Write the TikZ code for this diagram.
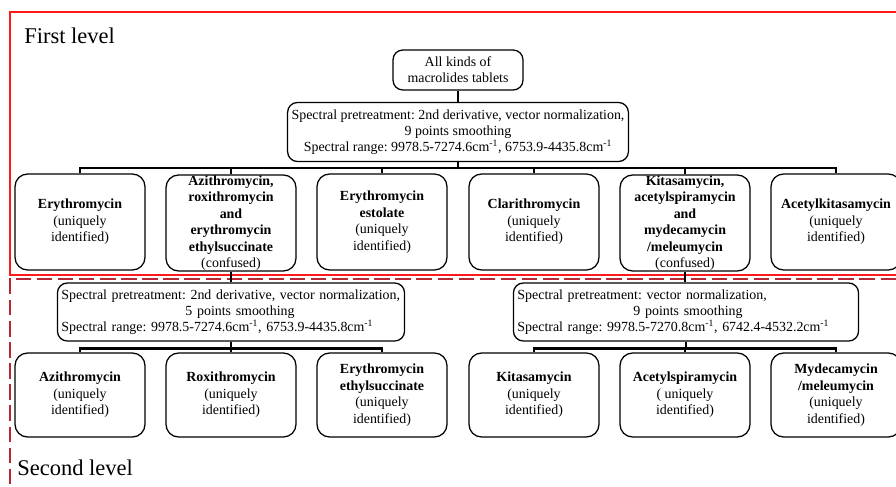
\documentclass[tikz,border=0pt]{standalone}
\usepackage{fontspec}
\setmainfont{Liberation Serif}
\frenchspacing
\usetikzlibrary{positioning}
\definecolor{dashred}{RGB}{185,40,50}
\tikzset{drug/.style={draw=black,line width=0.9pt,rounded corners=9pt,minimum width=3.25cm,minimum height=2.4cm,inner sep=0pt,align=center,font=\fontsize{9.9}{11.7}\selectfont}}
\tikzset{drugtwo/.style={drug,minimum height=2.1cm}}
\tikzset{pre/.style={draw=black,line width=0.9pt,rounded corners=7pt,inner xsep=0.1cm,inner ysep=0pt,minimum height=1.45cm,font=\fontsize{9.9}{11.5}\selectfont}}
\tikzset{bus/.style={line width=1.8pt}}
\tikzset{levelname/.style={anchor=west,inner sep=0pt,font=\fontsize{16}{19}\selectfont}}

\begin{document}
\begin{tikzpicture}[x=0.025cm,y=-0.025cm]
\useasboundingbox (0,0) rectangle (896,487);

% level frames
\draw[red!90!white,line width=1.5pt] (896,12) -- (10,12) -- (10,275) -- (896,275);
\draw[dashred,line width=1.5pt,dash pattern=on 11pt off 4pt] (896,279) -- (10,279) -- (10,487);
\node[levelname] (first) at (24,36) {First level};
\node[levelname] (second) at (17,468) {Second level};

% first level
\node[pre,minimum width=3.25cm,minimum height=1.0cm,align=center] (all) at (458,70) {All kinds of\\ macrolides tablets};
\node[pre,minimum width=8.5cm,minimum height=1.475cm,align=center] (pre1) at (458,132)
  {Spectral pretreatment: 2nd derivative, vector normalization,\\ 9 points smoothing\\
   Spectral range: 9978.5-7274.6cm\textsuperscript{-1}, 6753.9-4435.8cm\textsuperscript{-1}};

\node[drug] (d1) at (80,222) {\textbf{Erythromycin}\\ (uniquely\\ identified)};
\node[drug] (d2) at (231,223) {\textbf{Azithromycin,}\\ \textbf{roxithromycin}\\ \textbf{and}\\ \textbf{erythromycin}\\ \textbf{ethylsuccinate}\\ (confused)};
\node[drug] (d3) at (382,222) {\textbf{Erythromycin}\\ \textbf{estolate}\\ (uniquely\\ identified)};
\node[drug] (d4) at (534,222) {\textbf{Clarithromycin}\\ (uniquely\\ identified)};
\node[drug] (d5) at (685,223) {\textbf{Kitasamycin,}\\ \textbf{acetylspiramycin}\\ \textbf{and}\\ \textbf{mydecamycin}\\ \textbf{/meleumycin}\\ (confused)};
\node[drug] (d6) at (836,222) {\textbf{Acetylkitasamycin}\\ (uniquely\\ identified)};

\draw[bus] (all) -- (pre1);
\foreach \i in {1,...,6}
  \draw[bus] (pre1.south) -- ++(0,6) -| (d\i.north);

% second level
\node[pre,text width=8.475cm,align=left] (pre2) at (231,312)
  {\mbox{Spectral pretreatment: 2nd derivative, vector normalization,}\\ \hspace*{3.1cm}5 points smoothing\\
   \mbox{Spectral range: 9978.5-7274.6cm\textsuperscript{-1}, 6753.9-4435.8cm\textsuperscript{-1}}};
\node[pre,text width=8.425cm,align=left] (pre3) at (686,312)
  {\mbox{Spectral pretreatment: vector normalization,}\\ \hspace*{2.9cm}9 points smoothing\\
   \mbox{Spectral range: 9978.5-7270.8cm\textsuperscript{-1}, 6742.4-4532.2cm\textsuperscript{-1}}};

\node[drugtwo] (e1) at (80,395) {\textbf{Azithromycin}\\ (uniquely\\ identified)};
\node[drugtwo] (e2) at (231,395) {\textbf{Roxithromycin}\\ (uniquely\\ identified)};
\node[drugtwo] (e3) at (382,395) {\textbf{Erythromycin}\\ \textbf{ethylsuccinate}\\ (uniquely\\ identified)};
\node[drugtwo] (e4) at (534,395) {\textbf{Kitasamycin}\\ (uniquely\\ identified)};
\node[drugtwo] (e5) at (685,395) {\textbf{Acetylspiramycin}\\ ( uniquely\\ identified)};
\node[drugtwo] (e6) at (836,395) {\textbf{Mydecamycin}\\ \textbf{/meleumycin}\\ (uniquely\\ identified)};

\draw[bus] (d2.south) -- (pre2.north);
\draw[bus] (d5.south) -- (d5.south |- pre3.north);
\foreach \i in {1,2,3}
  \draw[bus] (pre2.south) -- ++(0,7) -| (e\i.north);
\foreach \i in {4,5,6}
  \draw[bus] (pre3.south) -- ++(0,7) -| (e\i.north);

\end{tikzpicture}
\end{document}
